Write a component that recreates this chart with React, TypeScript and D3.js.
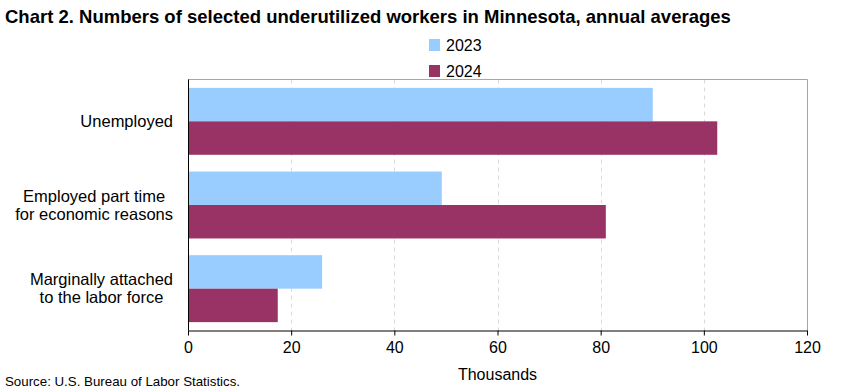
import React, { useEffect, useRef } from "react"
import * as d3 from "d3"

const categories = [
  ["Unemployed"],
  ["Employed part time", "for economic reasons"],
  ["Marginally attached", "to the labor force"],
]
const years = ["2023", "2024"]
const values2023 = [90.1, 49.2, 26.0]
const values2024 = [102.6, 81.0, 17.4]
const xTicks = [0, 20, 40, 60, 80, 100, 120]

const colors = ["#99ccff", "#993366"]
const font = "'Liberation Sans', Arial, sans-serif"

const App = () => {
  const ref = useRef<SVGSVGElement>(null)

  useEffect(() => {
    const svg = d3.select(ref.current)
    svg.selectAll("*").remove()

    const left = 188
    const right = 807
    const top = 79.5
    const bottom = 330.5

    const x = d3.scaleLinear().domain([0, 120]).range([left, right])
    const y = d3
      .scaleBand()
      .domain(categories.map((c, i) => String(i)))
      .range([top, bottom])
      .paddingInner(0.2)
      .paddingOuter(0.1)
    const inner = d3.scaleBand().domain(years).range([0, y.bandwidth()])

    // grid
    svg
      .append("g")
      .selectAll("line")
      .data(xTicks.slice(1, -1))
      .join("line")
      .attr("x1", d => Math.round(x(d)) + 0.5)
      .attr("x2", d => Math.round(x(d)) + 0.5)
      .attr("y1", top)
      .attr("y2", bottom)
      .attr("stroke", "#d9d9d9")
      .attr("stroke-dasharray", "4,4")

    // frame top/right
    svg
      .append("path")
      .attr("d", `M${left},${top}H${right + 0.5}V${bottom}`)
      .attr("fill", "none")
      .attr("stroke", "#a6a6a6")

    const series = [values2023, values2024]
    series.forEach((vals, s) => {
      svg
        .append("g")
        .selectAll("rect")
        .data(vals)
        .join("rect")
        .attr("x", x(0))
        .attr("y", (d, i) => (y(String(i)) as number) + (inner(years[s]) as number))
        .attr("width", d => x(d) - x(0))
        .attr("height", inner.bandwidth())
        .attr("fill", colors[s])
    })

    // left axis
    svg
      .append("line")
      .attr("x1", left + 0.5)
      .attr("x2", left + 0.5)
      .attr("y1", top)
      .attr("y2", bottom)
      .attr("stroke", "#000")

    // bottom axis
    const xAxis = svg
      .append("g")
      .attr("transform", `translate(0,${bottom})`)
      .call(d3.axisBottom(x).tickValues(xTicks).tickSize(5).tickSizeOuter(0).tickPadding(6))
    xAxis.select(".domain").attr("stroke", "#000")
    xAxis.selectAll("line").attr("stroke", "#000")
    xAxis
      .selectAll("text")
      .attr("font-family", font)
      .attr("font-size", 16)
      .attr("fill", "#000")

    // category labels: lines centred on each other, block right-aligned at 173
    categories.forEach((lines, i) => {
      const cy = (y(String(i)) as number) + y.bandwidth() / 2
      const t = svg
        .append("text")
        .attr("text-anchor", "middle")
        .attr("font-family", font)
        .attr("font-size", 16.5)
        .attr("fill", "#000")
      const spans = lines.map((l, j) =>
        t.append("tspan")
          .attr("y", cy + 5.5 + (j - (lines.length - 1) / 2) * 18)
          .text(l)
      )
      const w = d3.max(spans, s => (s.node() as SVGTSpanElement).getComputedTextLength()) || 0
      spans.forEach(s => s.attr("x", 173 - w / 2))
    })

    // legend
    years.forEach((yr, i) => {
      const ly = 39 + i * 26
      svg
        .append("rect")
        .attr("x", 429)
        .attr("y", ly)
        .attr("width", 11)
        .attr("height", 12)
        .attr("fill", colors[i])
      svg
        .append("text")
        .attr("x", 446)
        .attr("y", ly + 11.5)
        .attr("font-family", font)
        .attr("font-size", 16)
        .attr("fill", "#000")
        .text(yr)
    })

    svg
      .append("text")
      .attr("x", 5)
      .attr("y", 23)
      .attr("font-family", font)
      .attr("font-size", 18.5)
      .attr("font-weight", "bold")
      .text("Chart 2. Numbers of selected underutilized workers in Minnesota, annual averages")

    svg
      .append("text")
      .attr("x", (left + right) / 2)
      .attr("y", 379.5)
      .attr("text-anchor", "middle")
      .attr("font-family", font)
      .attr("font-size", 16)
      .text("Thousands")

    svg
      .append("text")
      .attr("x", 5)
      .attr("y", 386)
      .attr("font-family", font)
      .attr("font-size", 13.3)
      .text("Source: U.S. Bureau of Labor Statistics.")
  }, [])

  return (
    <div style={{ position: "absolute", left: 0, top: 0 }}>
      <svg ref={ref} width={841} height={390} style={{ display: "block", background: "#fff" }} />
    </div>
  )
}

export default App
